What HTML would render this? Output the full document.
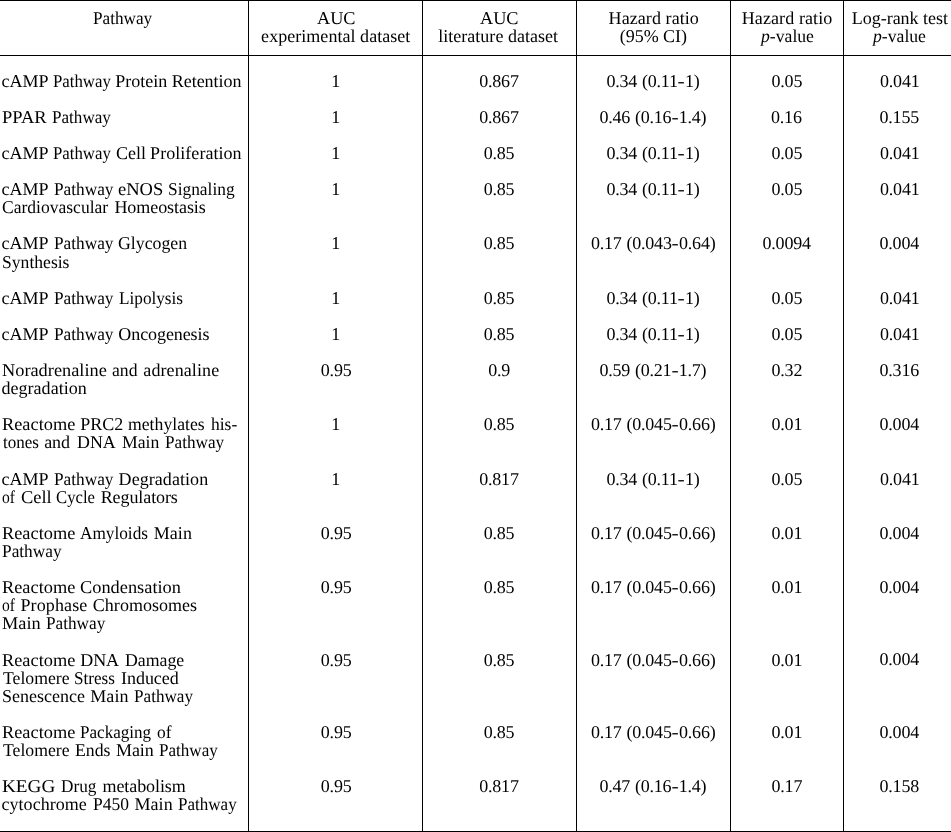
<!DOCTYPE html>
<html lang="en"><head><meta charset="utf-8"><title>Table</title>
<style>
html,body{margin:0;padding:0;background:#fff;}
body{width:951px;height:832px;position:relative;overflow:hidden;font-family:"Liberation Serif","Times New Roman",Times,serif;font-size:18px;color:#000;text-rendering:geometricPrecision;}
.t{position:absolute;white-space:pre;height:20px;line-height:20px;transform-origin:0 0;}
.ln{position:absolute;left:0;width:248px;height:20px;}
.ln .t{top:0;}
.y{display:inline-block;transform:scaleX(1.2);margin:0 .75px;}
.h{position:absolute;left:0;width:951px;height:1px;background:#000;}
.v{position:absolute;top:0;height:832px;width:1px;background:#000;}
</style></head><body>
<div class="h" style="top:0px"></div>
<div class="h" style="top:55px"></div>
<div class="h" style="top:831px"></div>
<div class="v" style="left:248px"></div>
<div class="v" style="left:422px"></div>
<div class="v" style="left:576px"></div>
<div class="v" style="left:730px"></div>
<div class="v" style="left:843px"></div>
<div class="ln" style="top:71px"><span class="t" style="left:1.60px">cAMP</span> <span class="t" style="left:52.90px;transform:scaleX(0.9333)">Pathway</span> <span class="t" style="left:115.20px">Protein</span> <span class="t" style="left:171.70px;letter-spacing:-0.012px">Retention</span></div>
<div class="ln" style="top:107px"><span class="t" style="left:2.10px;transform:scaleX(1.0286)">PPAR</span> <span class="t" style="left:52.10px;transform:scaleX(0.9500)">Pathway</span></div>
<div class="ln" style="top:143px"><span class="t" style="left:1.60px">cAMP</span> <span class="t" style="left:52.90px;transform:scaleX(0.9333)">Pathway</span> <span class="t" style="left:116.00px;letter-spacing:-0.033px">Cell</span> <span class="t" style="left:150.10px;letter-spacing:0.042px">Proliferation</span></div>
<div class="ln" style="top:179px"><span class="t" style="left:1.60px">cAMP</span> <span class="t" style="left:53.90px;transform:scaleX(0.9600)">Pathway</span> <span class="t" style="left:117.80px;transform:scaleX(1.0286)">eNOS</span> <span class="t" style="left:167.70px;transform:scaleX(0.9647)">Signaling</span></div>
<div class="ln" style="top:197px"><span class="t" style="left:1.60px;transform:scaleX(0.9741)">Cardiovascular</span> <span class="t" style="left:114.40px;letter-spacing:-0.060px">Homeostasis</span></div>
<div class="ln" style="top:233px"><span class="t" style="left:1.60px">cAMP</span> <span class="t" style="left:53.90px;transform:scaleX(0.9600)">Pathway</span> <span class="t" style="left:118.30px;transform:scaleX(0.9868)">Glycogen</span></div>
<div class="ln" style="top:252px"><span class="t" style="left:2.10px;transform:scaleX(0.9776)">Synthesis</span></div>
<div class="ln" style="top:288px"><span class="t" style="left:1.60px">cAMP</span> <span class="t" style="left:53.90px;transform:scaleX(0.9600)">Pathway</span> <span class="t" style="left:118.60px;transform:scaleX(0.9554)">Lipolysis</span></div>
<div class="ln" style="top:324px"><span class="t" style="left:1.60px">cAMP</span> <span class="t" style="left:53.90px;transform:scaleX(0.9600)">Pathway</span> <span class="t" style="left:118.30px;letter-spacing:-0.080px">Oncogenesis</span></div>
<div class="ln" style="top:360px"><span class="t" style="left:1.60px;transform:scaleX(1.0178)">Noradrenaline</span> <span class="t" style="left:112.00px;transform:scaleX(0.9800)">and</span> <span class="t" style="left:143.30px;letter-spacing:0.100px">adrenaline</span></div>
<div class="ln" style="top:378px"><span class="t" style="left:1.60px;letter-spacing:0.010px">degradation</span></div>
<div class="ln" style="top:414px"><span class="t" style="left:1.60px;transform:scaleX(1.0186)">Reactome</span> <span class="t" style="left:80.20px;letter-spacing:0.033px">PRC2</span> <span class="t" style="left:128.30px;transform:scaleX(0.9829)">methylates</span> <span class="t" style="left:210.80px;transform:scaleX(0.9731)">his-</span></div>
<div class="ln" style="top:432px"><span class="t" style="left:2.60px;transform:scaleX(0.9459)">tones</span> <span class="t" style="left:44.20px;letter-spacing:-0.100px">and</span> <span class="t" style="left:76.50px;transform:scaleX(0.9921)">DNA</span> <span class="t" style="left:121.70px;transform:scaleX(0.9806)">Main</span> <span class="t" style="left:164.60px;transform:scaleX(0.9550)">Pathway</span></div>
<div class="ln" style="top:469px"><span class="t" style="left:1.60px">cAMP</span> <span class="t" style="left:53.90px;transform:scaleX(0.9600)">Pathway</span> <span class="t" style="left:118.60px;letter-spacing:0.060px">Degradation</span></div>
<div class="ln" style="top:487px"><span class="t" style="left:1.60px;transform:scaleX(0.8643)">of</span> <span class="t" style="left:20.50px;transform:scaleX(1.0250)">Cell</span> <span class="t" style="left:56.00px;transform:scaleX(0.9275)">Cycle</span> <span class="t" style="left:100.70px;letter-spacing:-0.089px">Regulators</span></div>
<div class="ln" style="top:523px"><span class="t" style="left:1.60px;transform:scaleX(1.0186)">Reactome</span> <span class="t" style="left:80.20px;transform:scaleX(0.9571)">Amyloids</span> <span class="t" style="left:153.80px;letter-spacing:0.033px">Main</span></div>
<div class="ln" style="top:541px"><span class="t" style="left:2.10px;transform:scaleX(0.9617)">Pathway</span></div>
<div class="ln" style="top:577px"><span class="t" style="left:1.60px;transform:scaleX(1.0186)">Reactome</span> <span class="t" style="left:80.20px;transform:scaleX(1.0196)">Condensation</span></div>
<div class="ln" style="top:595px"><span class="t" style="left:1.60px;transform:scaleX(0.8643)">of</span> <span class="t" style="left:20.50px;letter-spacing:0.114px">Prophase</span> <span class="t" style="left:92.80px;letter-spacing:0.030px">Chromosomes</span></div>
<div class="ln" style="top:613px"><span class="t" style="left:2.10px;transform:scaleX(1.0167)">Main</span> <span class="t" style="left:46.30px;transform:scaleX(0.9567)">Pathway</span></div>
<div class="ln" style="top:650px"><span class="t" style="left:1.60px;transform:scaleX(1.0186)">Reactome</span> <span class="t" style="left:80.20px;letter-spacing:-0.050px">DNA</span> <span class="t" style="left:125.20px;transform:scaleX(0.9879)">Damage</span></div>
<div class="ln" style="top:668px"><span class="t" style="left:2.60px;transform:scaleX(0.9821)">Telomere</span> <span class="t" style="left:74.40px;transform:scaleX(0.9512)">Stress</span> <span class="t" style="left:121.00px;letter-spacing:-0.033px">Induced</span></div>
<div class="ln" style="top:686px"><span class="t" style="left:2.10px">Senescence</span> <span class="t" style="left:90.20px;letter-spacing:0.100px">Main</span> <span class="t" style="left:134.10px;transform:scaleX(0.9517)">Pathway</span></div>
<div class="ln" style="top:722px"><span class="t" style="left:1.60px;transform:scaleX(1.0186)">Reactome</span> <span class="t" style="left:80.20px;transform:scaleX(0.9486)">Packaging</span> <span class="t" style="left:157.20px;transform:scaleX(0.9643)">of</span></div>
<div class="ln" style="top:740px"><span class="t" style="left:2.60px;transform:scaleX(0.9821)">Telomere</span> <span class="t" style="left:74.90px;transform:scaleX(0.9853)">Ends</span> <span class="t" style="left:116.00px;letter-spacing:-0.067px">Main</span> <span class="t" style="left:159.30px;transform:scaleX(0.9483)">Pathway</span></div>
<div class="ln" style="top:776px"><span class="t" style="left:2.10px;transform:scaleX(1.0646)">KEGG</span> <span class="t" style="left:60.50px;transform:scaleX(0.9583)">Drug</span> <span class="t" style="left:102.50px;letter-spacing:-0.078px">metabolism</span></div>
<div class="ln" style="top:794px"><span class="t" style="left:1.60px;letter-spacing:0.011px">cytochrome</span> <span class="t" style="left:92.80px;transform:scaleX(0.9714)">P450</span> <span class="t" style="left:134.40px;letter-spacing:0.100px">Main</span> <span class="t" style="left:178.30px;transform:scaleX(0.9467)">Pathway</span></div>
<div class="t" style="left:92.70px;top:8px;transform:scaleX(0.9550)">Pathway</div>
<div class="t" style="left:317.30px;top:8px;transform:scaleX(1.0135)">AUC</div>
<div class="t" style="left:261.10px;top:26px;letter-spacing:0.042px">experimental dataset</div>
<div class="t" style="left:480.20px;top:8px;transform:scaleX(1.0135)">AUC</div>
<div class="t" style="left:438.30px;top:26px;letter-spacing:0.012px">literature dataset</div>
<div class="t" style="left:608.60px;top:8px;letter-spacing:0.073px">Hazard ratio</div>
<div class="t" style="left:619.70px;top:26px;letter-spacing:-0.014px">(95% CI)</div>
<div class="t" style="left:741.70px;top:8px;letter-spacing:0.109px">Hazard ratio</div>
<div class="t" style="left:760.80px;top:26px;transform:scaleX(0.9811)"><i>p</i>-value</div>
<div class="t" style="left:851.70px;top:8px;letter-spacing:-0.008px">Log-rank test</div>
<div class="t" style="left:873.40px;top:26px;transform:scaleX(0.9811)"><i>p</i>-value</div>
<div class="t" style="left:331.30px;top:71px">1</div>
<div class="t" style="left:479.20px;top:71px;letter-spacing:-0.200px">0.867</div>
<div class="t" style="left:606.40px;top:71px;letter-spacing:-0.200px;word-spacing:0.5px">0.34 (0.11<span class="y">-</span>1)</div>
<div class="t" style="left:771.50px;top:71px;letter-spacing:-0.200px">0.05</div>
<div class="t" style="left:880.00px;top:71px;letter-spacing:-0.200px">0.041</div>
<div class="t" style="left:331.30px;top:107px">1</div>
<div class="t" style="left:479.20px;top:107px;letter-spacing:-0.200px">0.867</div>
<div class="t" style="left:599.40px;top:107px;letter-spacing:-0.200px;word-spacing:0.5px">0.46 (0.16<span class="y">-</span>1.4)</div>
<div class="t" style="left:771.00px;top:107px;letter-spacing:-0.200px">0.16</div>
<div class="t" style="left:879.50px;top:107px;letter-spacing:-0.200px">0.155</div>
<div class="t" style="left:331.30px;top:143px">1</div>
<div class="t" style="left:483.70px;top:143px;letter-spacing:-0.200px">0.85</div>
<div class="t" style="left:606.40px;top:143px;letter-spacing:-0.200px;word-spacing:0.5px">0.34 (0.11<span class="y">-</span>1)</div>
<div class="t" style="left:771.50px;top:143px;letter-spacing:-0.200px">0.05</div>
<div class="t" style="left:880.00px;top:143px;letter-spacing:-0.200px">0.041</div>
<div class="t" style="left:331.30px;top:179px">1</div>
<div class="t" style="left:483.70px;top:179px;letter-spacing:-0.200px">0.85</div>
<div class="t" style="left:606.40px;top:179px;letter-spacing:-0.200px;word-spacing:0.5px">0.34 (0.11<span class="y">-</span>1)</div>
<div class="t" style="left:771.50px;top:179px;letter-spacing:-0.200px">0.05</div>
<div class="t" style="left:880.00px;top:179px;letter-spacing:-0.200px">0.041</div>
<div class="t" style="left:331.30px;top:233px">1</div>
<div class="t" style="left:483.70px;top:233px;letter-spacing:-0.200px">0.85</div>
<div class="t" style="left:590.90px;top:233px;letter-spacing:-0.200px;word-spacing:0.5px">0.17 (0.043<span class="y">-</span>0.64)</div>
<div class="t" style="left:762.50px;top:233px;letter-spacing:-0.200px">0.0094</div>
<div class="t" style="left:879.50px;top:233px;letter-spacing:-0.200px">0.004</div>
<div class="t" style="left:331.30px;top:288px">1</div>
<div class="t" style="left:483.70px;top:288px;letter-spacing:-0.200px">0.85</div>
<div class="t" style="left:606.40px;top:288px;letter-spacing:-0.200px;word-spacing:0.5px">0.34 (0.11<span class="y">-</span>1)</div>
<div class="t" style="left:771.50px;top:288px;letter-spacing:-0.200px">0.05</div>
<div class="t" style="left:880.00px;top:288px;letter-spacing:-0.200px">0.041</div>
<div class="t" style="left:331.30px;top:324px">1</div>
<div class="t" style="left:483.70px;top:324px;letter-spacing:-0.200px">0.85</div>
<div class="t" style="left:606.40px;top:324px;letter-spacing:-0.200px;word-spacing:0.5px">0.34 (0.11<span class="y">-</span>1)</div>
<div class="t" style="left:771.50px;top:324px;letter-spacing:-0.200px">0.05</div>
<div class="t" style="left:880.00px;top:324px;letter-spacing:-0.200px">0.041</div>
<div class="t" style="left:320.80px;top:360px;letter-spacing:-0.200px">0.95</div>
<div class="t" style="left:488.20px;top:360px;letter-spacing:-0.200px">0.9</div>
<div class="t" style="left:599.40px;top:360px;letter-spacing:-0.200px;word-spacing:0.5px">0.59 (0.21<span class="y">-</span>1.7)</div>
<div class="t" style="left:771.50px;top:360px;letter-spacing:-0.200px">0.32</div>
<div class="t" style="left:879.50px;top:360px;letter-spacing:-0.200px">0.316</div>
<div class="t" style="left:331.30px;top:414px">1</div>
<div class="t" style="left:483.70px;top:414px;letter-spacing:-0.200px">0.85</div>
<div class="t" style="left:590.90px;top:414px;letter-spacing:-0.200px;word-spacing:0.5px">0.17 (0.045<span class="y">-</span>0.66)</div>
<div class="t" style="left:771.50px;top:414px;letter-spacing:-0.200px">0.01</div>
<div class="t" style="left:879.50px;top:414px;letter-spacing:-0.200px">0.004</div>
<div class="t" style="left:331.30px;top:469px">1</div>
<div class="t" style="left:479.20px;top:469px;letter-spacing:-0.200px">0.817</div>
<div class="t" style="left:606.40px;top:469px;letter-spacing:-0.200px;word-spacing:0.5px">0.34 (0.11<span class="y">-</span>1)</div>
<div class="t" style="left:771.50px;top:469px;letter-spacing:-0.200px">0.05</div>
<div class="t" style="left:880.00px;top:469px;letter-spacing:-0.200px">0.041</div>
<div class="t" style="left:320.80px;top:523px;letter-spacing:-0.200px">0.95</div>
<div class="t" style="left:483.70px;top:523px;letter-spacing:-0.200px">0.85</div>
<div class="t" style="left:590.90px;top:523px;letter-spacing:-0.200px;word-spacing:0.5px">0.17 (0.045<span class="y">-</span>0.66)</div>
<div class="t" style="left:771.50px;top:523px;letter-spacing:-0.200px">0.01</div>
<div class="t" style="left:879.50px;top:523px;letter-spacing:-0.200px">0.004</div>
<div class="t" style="left:320.80px;top:577px;letter-spacing:-0.200px">0.95</div>
<div class="t" style="left:483.70px;top:577px;letter-spacing:-0.200px">0.85</div>
<div class="t" style="left:590.90px;top:577px;letter-spacing:-0.200px;word-spacing:0.5px">0.17 (0.045<span class="y">-</span>0.66)</div>
<div class="t" style="left:771.50px;top:577px;letter-spacing:-0.200px">0.01</div>
<div class="t" style="left:879.50px;top:577px;letter-spacing:-0.200px">0.004</div>
<div class="t" style="left:320.80px;top:650px;letter-spacing:-0.200px">0.95</div>
<div class="t" style="left:483.70px;top:650px;letter-spacing:-0.200px">0.85</div>
<div class="t" style="left:590.90px;top:650px;letter-spacing:-0.200px;word-spacing:0.5px">0.17 (0.045<span class="y">-</span>0.66)</div>
<div class="t" style="left:771.50px;top:650px;letter-spacing:-0.200px">0.01</div>
<div class="t" style="left:879.50px;top:649px;letter-spacing:-0.200px">0.004</div>
<div class="t" style="left:320.80px;top:722px;letter-spacing:-0.200px">0.95</div>
<div class="t" style="left:483.70px;top:722px;letter-spacing:-0.200px">0.85</div>
<div class="t" style="left:590.90px;top:722px;letter-spacing:-0.200px;word-spacing:0.5px">0.17 (0.045<span class="y">-</span>0.66)</div>
<div class="t" style="left:771.50px;top:722px;letter-spacing:-0.200px">0.01</div>
<div class="t" style="left:879.50px;top:722px;letter-spacing:-0.200px">0.004</div>
<div class="t" style="left:320.80px;top:776px;letter-spacing:-0.200px">0.95</div>
<div class="t" style="left:479.20px;top:776px;letter-spacing:-0.200px">0.817</div>
<div class="t" style="left:599.40px;top:776px;letter-spacing:-0.200px;word-spacing:0.5px">0.47 (0.16<span class="y">-</span>1.4)</div>
<div class="t" style="left:771.50px;top:776px;letter-spacing:-0.200px">0.17</div>
<div class="t" style="left:879.50px;top:776px;letter-spacing:-0.200px">0.158</div>
</body></html>
